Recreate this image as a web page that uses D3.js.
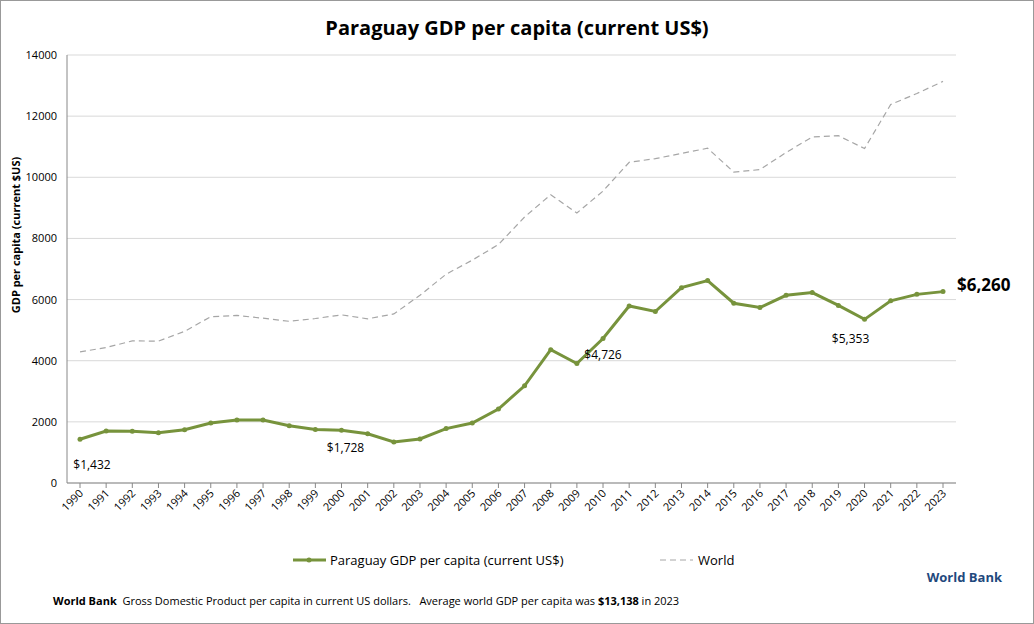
<!DOCTYPE html>
<html><head><meta charset="utf-8">
<script src="https://cdn.jsdelivr.net/npm/d3@7"></script>
<style>body{margin:0;background:#fff;font-family:"Open Sans",Arial,sans-serif}</style>
</head><body><div id="chart"></div>
<script>
const years = d3.range(1990, 2024);
const paraguay = [1432,1700,1690,1640,1740,1960,2060,2060,1870,1750,1728,1610,1340,1440,1780,1960,2420,3180,4360,3910,4726,5790,5610,6390,6620,5880,5740,6140,6230,5810,5353,5960,6170,6260];
const world = [4290,4430,4650,4640,4960,5440,5480,5390,5290,5380,5500,5370,5530,6140,6830,7290,7800,8700,9430,8830,9550,10490,10610,10780,10950,10170,10250,10810,11320,11360,10940,12380,12740,13138];
const yTicks = [0,2000,4000,6000,8000,10000,12000,14000];

const W = 1034, H = 624;
const svg = d3.select("#chart").append("svg").attr("width", W).attr("height", H);
svg.append("rect").attr("x",0.5).attr("y",0.5).attr("width",W-1).attr("height",H-1).attr("fill","#fff").attr("stroke","#999");

const x = d3.scalePoint().domain(years).range([80, 943]);
const y = d3.scaleLinear().domain([0, 14000]).range([483, 55]);

svg.append("g").selectAll("line").data(yTicks).enter().append("line")
  .attr("x1", 67).attr("x2", 956).attr("y1", d => y(d)).attr("y2", d => y(d))
  .attr("stroke", "#d9d9d9");
svg.append("line").attr("x1",67).attr("x2",67).attr("y1",55).attr("y2",483).attr("stroke","#888");
svg.append("line").attr("x1",67).attr("x2",956).attr("y1",483).attr("y2",483).attr("stroke","#888");

svg.append("g").selectAll("text").data(yTicks).enter().append("text")
  .attr("x", 57).attr("y", d => y(d) + 4).attr("text-anchor", "end")
  .attr("font-size", 11).text(d => d);

svg.append("g").selectAll("text").data(years).enter().append("text")
  .attr("transform", d => `translate(${x(d)+4},${494}) rotate(-45)`)
  .attr("text-anchor", "end").attr("font-size", 11).text(d => d);
svg.append("g").selectAll("line").data(years).enter().append("line")
  .attr("x1", d => x(d)).attr("x2", d => x(d)).attr("y1", 483).attr("y2", 488).attr("stroke", "#888");

svg.append("text").attr("transform", "translate(20,235) rotate(-90)").attr("text-anchor", "middle")
  .attr("font-size", 11).attr("font-weight", "bold").text("GDP per capita (current $US)");

svg.append("text").attr("x", 517).attr("y", 35).attr("text-anchor", "middle")
  .attr("font-size", 20).attr("font-weight", "bold").text("Paraguay GDP per capita (current US$)");

const line = d3.line().x((d, i) => x(years[i])).y(d => y(d));
svg.append("path").datum(world).attr("d", line).attr("fill", "none")
  .attr("stroke", "#a6a6a6").attr("stroke-dasharray", "6,4").attr("stroke-width", 1.2);
svg.append("path").datum(paraguay).attr("d", line).attr("fill", "none")
  .attr("stroke", "#77933c").attr("stroke-width", 3);
svg.append("g").selectAll("circle").data(paraguay).enter().append("circle")
  .attr("cx", (d, i) => x(years[i])).attr("cy", d => y(d)).attr("r", 2.5).attr("fill", "#77933c");

// point labels
const labels = [[1990, "$1,432", 12, 30], [2000, "$1,728", 4, 22], [2010, "$4,726", 0, 20], [2020, "$5,353", -14, 24]];
svg.append("g").selectAll("text").data(labels).enter().append("text")
  .attr("x", d => x(d[0]) + d[2]).attr("y", d => y(paraguay[years.indexOf(d[0])]) + d[3])
  .attr("text-anchor", "middle").attr("font-size", 12).text(d => d[1]);
svg.append("text").attr("x", 957).attr("y", y(6260) - 1).attr("font-size", 17)
  .attr("font-weight", "bold").text("$6,260");

// legend
svg.append("line").attr("x1", 293).attr("x2", 326).attr("y1", 560).attr("y2", 560).attr("stroke", "#77933c").attr("stroke-width", 3);
svg.append("circle").attr("cx", 309).attr("cy", 560).attr("r", 2.5).attr("fill", "#77933c");
svg.append("text").attr("x", 330).attr("y", 565).attr("font-size", 13).text("Paraguay GDP per capita (current US$)");
svg.append("line").attr("x1", 660).attr("x2", 693).attr("y1", 560).attr("y2", 560).attr("stroke", "#a6a6a6").attr("stroke-dasharray", "6,4");
svg.append("text").attr("x", 698).attr("y", 565).attr("font-size", 13).text("World");

svg.append("text").attr("x", 1002).attr("y", 582).attr("text-anchor", "end").attr("font-size", 13)
  .attr("font-weight", "bold").attr("fill", "#1f497d").text("World Bank");

const foot = svg.append("text").attr("x", 53).attr("y", 605).attr("font-size", 11).style("white-space", "pre");
foot.append("tspan").attr("font-weight", "bold").text("World Bank");
foot.append("tspan").text("  Gross Domestic Product per capita in current US dollars.   Average world GDP per capita was ");
foot.append("tspan").attr("font-weight", "bold").text("$13,138");
foot.append("tspan").text(" in 2023");
</script></body></html>
